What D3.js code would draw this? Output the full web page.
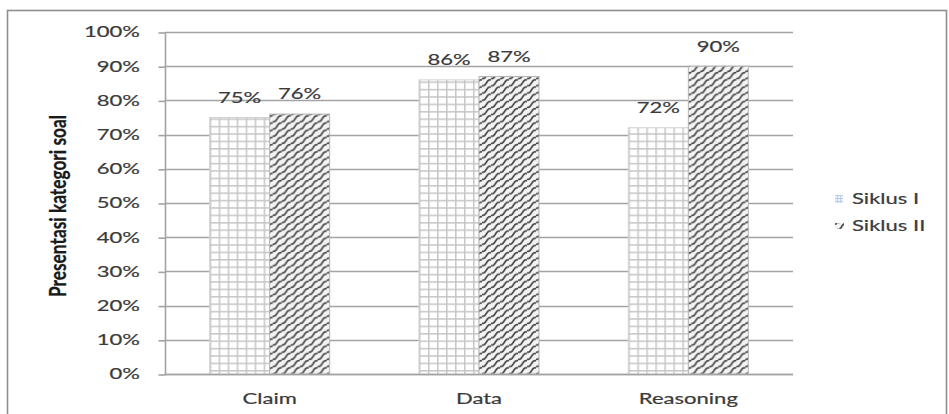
<!DOCTYPE html>
<html>
<head>
<meta charset="utf-8">
<script src="https://cdn.jsdelivr.net/npm/d3@7"></script>
<style>
  body { margin: 0; background: #fff; }
  svg { display: block; }
  text { font-family: Lato, "Open Sans", sans-serif; fill: #3b3b3b; stroke: #3b3b3b; stroke-width: 0.2px; }
</style>
</head>
<body>
<svg id="chart" width="949" height="414"></svg>
<script>
// Chart data
const categories = ["Claim", "Data", "Reasoning"];
const seriesNames = ["Siklus I", "Siklus II"];
const siklus1 = [75, 86, 72];
const siklus2 = [76, 87, 90];
const yTicks = [0, 10, 20, 30, 40, 50, 60, 70, 80, 90, 100];
const yTickLabels = ["0%", "10%", "20%", "30%", "40%", "50%", "60%", "70%", "80%", "90%", "100%"];
const yTitle = "Presentasi kategori soal";

// Layout
const W = 949, H = 414;
const SX = 1.45;                 // horizontal stretch applied to all text
const plot = { left: 165, right: 793, top: 32, bottom: 374 };
const gridColor = "#a3a3a3";

const svg = d3.select("#chart");
const defs = svg.append("defs");

// Small-grid fill for the first series
const pGrid = defs.append("pattern")
  .attr("id", "pGrid").attr("patternUnits", "userSpaceOnUse")
  .attr("width", 9).attr("height", 7.4);
pGrid.append("rect").attr("width", 9).attr("height", 7.4).attr("fill", "#fff");
pGrid.append("line").attr("x1", 0.8).attr("x2", 0.8).attr("y1", 0).attr("y2", 7.4)
  .attr("stroke", "#c6c6c6").attr("stroke-width", 1.5);
pGrid.append("line").attr("x1", 0).attr("x2", 9).attr("y1", 0.8).attr("y2", 0.8)
  .attr("stroke", "#c6c6c6").attr("stroke-width", 1.5);

// Wave fill for the second series
const pWave = defs.append("pattern")
  .attr("id", "pWave").attr("patternUnits", "userSpaceOnUse")
  .attr("width", 9).attr("height", 7.2);
pWave.append("rect").attr("width", 9).attr("height", 7.2).attr("fill", "#f3f3f3");
const waveRow = dy => `M-1,${6 + dy} C1,${7.4 + dy} 3,${6.4 + dy} 4.5,${3.6 + dy} S8,${-0.2 + dy} 10,${1.2 + dy}`;
pWave.append("path")
  .attr("d", [waveRow(-7.2), waveRow(0), waveRow(7.2)].join(" "))
  .attr("fill", "none").attr("stroke", "#4a4a4a").attr("stroke-width", 1.7);

// Light legend swatch fill
const pGridLegend = defs.append("pattern")
  .attr("id", "pGridLegend").attr("patternUnits", "userSpaceOnUse")
  .attr("width", 3).attr("height", 3);
pGridLegend.append("rect").attr("width", 3).attr("height", 3).attr("fill", "#eef4fa");
pGridLegend.append("path").attr("d", "M0.5,0V3M0,0.5H3")
  .attr("stroke", "#b8cfe3").attr("stroke-width", 1);

const fills = ["url(#pGrid)", "url(#pWave)"];
const strokes = ["#d2d2d2", "#b5b5b5"];

// Outer frame
svg.append("rect")
  .attr("x", 7.5).attr("y", 10.5).attr("width", W - 10).attr("height", H + 10)
  .attr("fill", "none").attr("stroke", "#8e8e8e").attr("stroke-width", 1.6);

// Scales
const y = d3.scaleLinear().domain([0, 100]).range([plot.bottom, plot.top]);
const x0 = d3.scaleBand().domain(categories).range([plot.left, plot.right])
  .paddingInner(0.4267).paddingOuter(0.4267 / 2);
const x1 = d3.scaleBand().domain([0, 1]).range([0, x0.bandwidth()]);

// Gridlines
svg.append("g").selectAll("line").data(yTicks).join("line")
  .attr("x1", plot.left).attr("x2", plot.right)
  .attr("y1", d => Math.round(y(d)) + 0.5).attr("y2", d => Math.round(y(d)) + 0.5)
  .attr("stroke", gridColor).attr("stroke-width", 1.3);

// Y axis with outward ticks
const yAxis = svg.append("g")
  .attr("transform", `translate(${plot.left + 0.5},0.5)`)
  .call(d3.axisLeft(y).tickValues(yTicks).tickSize(7).tickFormat(""));
yAxis.selectAll("path, line").attr("stroke", gridColor).attr("stroke-width", 1.6);
yAxis.select(".domain").attr("d", `M0,${Math.round(plot.top)}V${Math.round(plot.bottom)}`);

// Y tick labels
svg.append("g").selectAll("text").data(yTicks).join("text")
  .attr("transform", d => `translate(140,${y(d)}) scale(${SX},1)`)
  .attr("text-anchor", "end").attr("dy", "0.35em")
  .style("font-size", "15.2px")
  .text((d, i) => yTickLabels[i]);

// Bars
const series = [siklus1, siklus2];
const groups = svg.append("g").selectAll("g").data(categories).join("g")
  .attr("transform", d => `translate(${x0(d)},0)`);

groups.selectAll("rect")
  .data((c, ci) => series.map((s, si) => ({ si, v: s[ci] })))
  .join("rect")
  .attr("x", d => x1(d.si))
  .attr("y", d => y(d.v))
  .attr("width", x1.bandwidth())
  .attr("height", d => y(0) - y(d.v))
  .attr("fill", d => fills[d.si])
  .attr("stroke", d => strokes[d.si])
  .attr("stroke-width", 1);

// Value labels
groups.selectAll("text.val")
  .data((c, ci) => series.map((s, si) => ({ si, v: s[ci] })))
  .join("text").attr("class", "val")
  .attr("transform", d => `translate(${x1(d.si) + x1.bandwidth() / 2},${y(d.v) - 20}) scale(${SX},1)`)
  .attr("text-anchor", "middle").attr("dy", "0.35em")
  .style("font-size", "15.2px")
  .text(d => d.v + "%");

// X axis line
svg.append("line")
  .attr("x1", plot.left).attr("x2", plot.right)
  .attr("y1", Math.round(plot.bottom) + 0.5).attr("y2", Math.round(plot.bottom) + 0.5)
  .attr("stroke", gridColor).attr("stroke-width", 1.6);

// Category labels
svg.append("g").selectAll("text").data(categories).join("text")
  .attr("transform", d => `translate(${x0(d) + x0.bandwidth() / 2},399) scale(${SX},1)`)
  .attr("text-anchor", "middle").attr("dy", "0.35em")
  .style("font-size", "15.2px")
  .text(d => d);

// Y axis title
svg.append("text")
  .attr("transform", `translate(58,206) scale(${SX},1) rotate(-90)`)
  .attr("text-anchor", "middle").attr("dy", "0.35em")
  .attr("textLength", 182).attr("lengthAdjust", "spacingAndGlyphs")
  .style("font-size", "15.5px").style("font-weight", "bold")
  .style("fill", "#1a1a1a").style("stroke", "#1a1a1a").style("stroke-width", "0.2px")
  .text(yTitle);

// Legend
const legend = svg.append("g");
const legendRows = seriesNames.map((name, i) => ({ name, i }));
legend.selectAll("rect").data(legendRows).join("rect")
  .attr("x", 835).attr("y", d => d.i === 0 ? 195 : 223)
  .attr("width", d => d.i === 0 ? 8 : 9).attr("height", d => d.i === 0 ? 8 : 6)
  .attr("fill", d => d.i === 0 ? "url(#pGridLegend)" : "url(#pWave)");
legend.selectAll("text").data(legendRows).join("text")
  .attr("transform", d => `translate(852,${d.i === 0 ? 199 : 226}) scale(${SX},1)`)
  .attr("dy", "0.35em")
  .style("font-size", "15.2px")
  .text(d => d.name);
</script>
</body>
</html>
